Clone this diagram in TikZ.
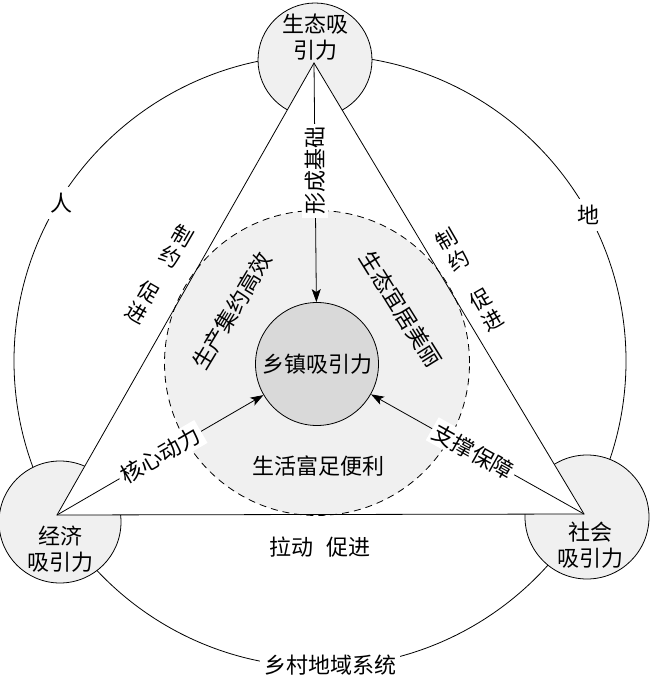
\documentclass[tikz,border=0pt]{standalone}
\usepackage{fontspec}
\setmainfont{Noto Sans CJK SC}
\usetikzlibrary{arrows.meta}
\begin{document}
\begin{tikzpicture}[x=1pt,y=-1pt,
  lab/.style={font=\fontsize{22}{26}\selectfont, inner sep=1pt},
  elab/.style={font=\fontsize{21}{24}\selectfont, inner sep=1pt, align=center},
  vcirc/.style={circle, draw, line width=0.8pt, fill=black!6, inner sep=0pt},
  arr/.style={line width=0.8pt, -{Stealth[length=13pt,width=9pt,inset=3pt]}},
  wlab/.style={lab, fill=white, inner sep=3pt}]
\useasboundingbox (0,0) rectangle (650,692);
% outer system circle
\node[circle, draw, line width=0.8pt, minimum size=612pt, inner sep=0pt] (sys) at (320,361) {};
% vertex circles
\node[vcirc, minimum size=114pt] (eco) at (315,60) {};
\node[vcirc, minimum size=122pt] (econ) at (60,522) {};
\node[vcirc, minimum size=124pt] (soc) at (587,517) {};
% triangle
\coordinate (A) at (314,63);
\coordinate (B) at (57,515);
\coordinate (C) at (584,514);
\fill[white] (A) -- (B) -- (C) -- cycle;
% dashed zone
\node[circle, draw, line width=0.8pt, dash pattern=on 7pt off 5pt, fill=black!6, minimum size=305pt, inner sep=0pt] (zone) at (317,363) {};
\draw[line width=0.8pt, line join=miter] (A) -- (B) -- (C) -- cycle;
% core
\node[circle, draw, line width=0.8pt, fill=black!15, minimum size=123pt, lab] (core) at (317,364) {乡镇吸引力};
% arrows
\draw[arr] (A) -- (core) node[wlab, pos=0.45, rotate=90] {形成基础};
\draw[arr] (B) -- (core) node[wlab, pos=0.5, sloped] {核心动力};
\draw[arr] (C) -- (core) node[wlab, pos=0.52, sloped] {支撑保障};
% edge labels
\node[elab, rotate=-30] (l1) at (177,246) {制\\约};
\node[elab, rotate=-30] (l2) at (143,302) {促\\进};
\node[elab, rotate=30] (r1) at (453,250) {制\\约};
\node[elab, rotate=30] (r2) at (487,310) {促\\进};
% zone texts
\node[lab, rotate=59] (t1) at (232,311) {生产集约高效};
\node[lab, rotate=-58] (t2) at (401,309) {生态宜居美丽};
\node[lab] (t3) at (318,466) {生活富足便利};
\node[lab] (t4) at (320,547) {拉动\hspace{0.6em}促进};
% vertex labels
\node[lab, align=center] (n1) at (315,37) {生态吸\\引力};
\node[lab, align=center] (n2) at (60,549) {经济\\吸引力};
\node[lab, align=center] (n3) at (590,545) {社会\\吸引力};
% outer labels
\node[lab, fill=white, inner sep=6pt] (ren) at (61,203) {人};
\node[lab, fill=white, inner sep=6pt] (di) at (588,215) {地};
\node[lab, fill=white, inner sep=4pt] (sysl) at (330,665) {乡村地域系统};
\end{tikzpicture}
\end{document}
